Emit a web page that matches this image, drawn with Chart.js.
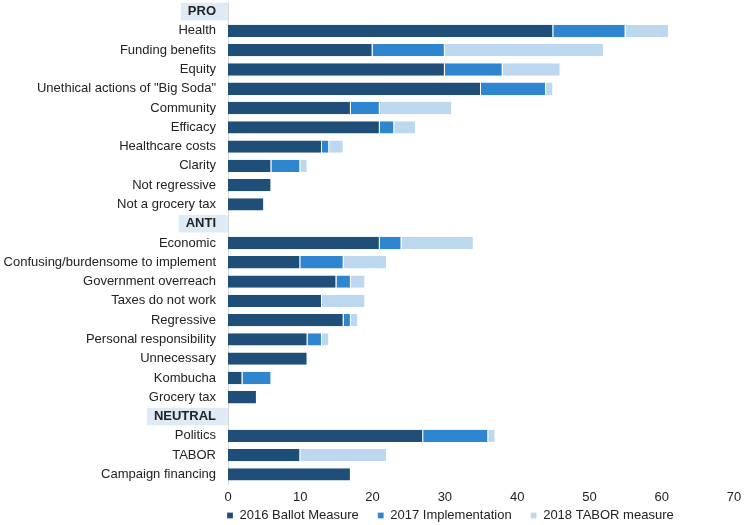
<!DOCTYPE html>
<html>
<head>
<meta charset="utf-8">
<script src="https://cdn.jsdelivr.net/npm/chart.js@4.4.1/dist/chart.umd.min.js"></script>
<style>
  html, body { margin: 0; padding: 0; background: #fff; }
  #wrap { width: 754px; height: 525px; }
</style>
</head>
<body>
<div id="wrap"><canvas id="chart"></canvas></div>
<script>
// categories, header rows (PRO / ANTI / NEUTRAL) have no values
const categories = [
  "PRO", "Health", "Funding benefits", "Equity", 'Unethical actions of "Big Soda"',
  "Community", "Efficacy", "Healthcare costs", "Clarity", "Not regressive", "Not a grocery tax",
  "ANTI", "Economic", "Confusing/burdensome to implement", "Government overreach",
  "Taxes do not work", "Regressive", "Personal responsibility", "Unnecessary", "Kombucha", "Grocery tax",
  "NEUTRAL", "Politics", "TABOR", "Campaign financing"
];
const headers = ["PRO", "ANTI", "NEUTRAL"];

const ballot2016 = [null, 45, 20, 30, 35, 17, 21, 13, 6, 6, 5, null, 21, 10, 15, 13, 16, 11, 11, 2, 4, null, 27, 10, 17];
const impl2017 = [null, 10, 10, 8, 9, 4, 2, 1, 4, null, null, null, 3, 6, 2, null, 1, 2, null, 4, null, null, 9, null, null];
const tabor2018 = [null, 6, 22, 8, 1, 10, 3, 2, 1, null, null, null, 10, 6, 2, 6, 1, 1, null, null, null, null, 1, 12, null];

const seriesNames = ["2016 Ballot Measure", "2017 Implementation", "2018 TABOR measure"];
const xTicks = [0, 10, 20, 30, 40, 50, 60, 70];

const colors = ["#1f4e79", "#2e86d1", "#bdd7ee"];
const isHeader = i => headers.includes(categories[i]);

// puts the legend under the plot's left edge, close to the tick labels
const legendShift = {
  id: "legendShift",
  afterLayout(chart) {
    const lg = chart.legend;
    lg.left += 208;
    lg.top -= 14;
    lg.bottom -= 14;
  }
};

const ctx = document.getElementById("chart").getContext("2d");
new Chart(ctx, {
  type: "bar",
  data: {
    labels: categories,
    datasets: [ballot2016, impl2017, tabor2018].map((d, i) => ({
      label: seriesNames[i],
      data: d,
      backgroundColor: colors[i],
      borderColor: "#ffffff",
      borderWidth: { top: 0, bottom: 0, left: 0, right: 1 },
      borderSkipped: false,
      barPercentage: 0.64,
      categoryPercentage: 1
    }))
  },
  options: {
    indexAxis: "y",
    responsive: true,
    maintainAspectRatio: false,
    animation: false,
    layout: { padding: { top: 2, right: 20, bottom: -21, left: 0 } },
    scales: {
      x: {
        stacked: true,
        min: 0,
        max: 70,
        afterBuildTicks: s => { s.ticks = xTicks.map(v => ({ value: v })); },
        afterFit: s => { s.height = 20; },
        grid: { display: false, drawTicks: false },
        border: { display: false },
        ticks: {
          padding: 6,
          color: "#222",
          font: { family: "Liberation Sans", size: 13 }
        }
      },
      y: {
        stacked: true,
        afterFit: s => {
          s.width = 228;
          s.paddingTop = 0;
          s.paddingBottom = 0;
        },
        grid: { display: false, drawTicks: false },
        border: { display: true, color: "#d9d9d9", width: 1 },
        ticks: {
          autoSkip: false,
          padding: 12,
          color: "#222",
          font: c => ({
            family: "Liberation Sans",
            size: 13,
            weight: isHeader(c.index) ? "bold" : "normal"
          }),
          showLabelBackdrop: c => isHeader(c.index),
          backdropColor: "#deebf7",
          backdropPadding: { top: 1, bottom: 1, left: 7, right: 12 }
        }
      }
    },
    plugins: {
      legend: {
        position: "bottom",
        align: "start",
        labels: {
          boxWidth: 6,
          boxHeight: 6,
          padding: 19,
          color: "#222",
          font: { family: "Liberation Sans", size: 13 }
        }
      },
      tooltip: { enabled: false }
    }
  },
  plugins: [legendShift]
});
</script>
</body>
</html>
